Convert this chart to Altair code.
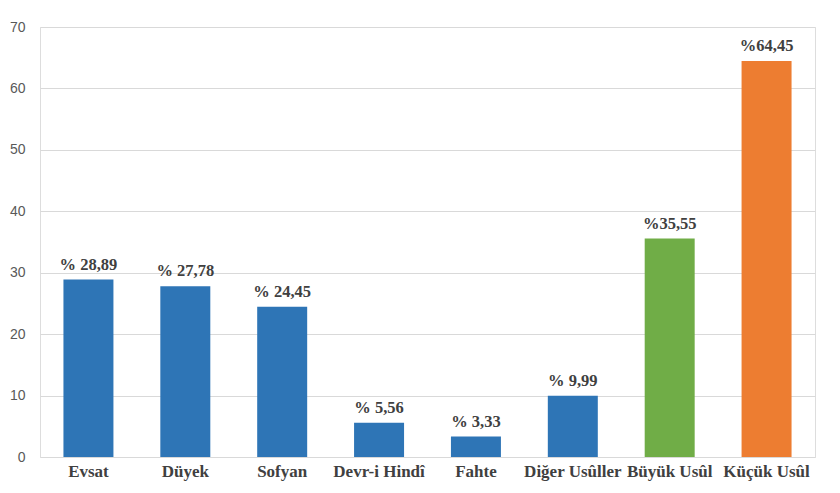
import altair as alt
import pandas as pd

categories = ["Evsat", "Düyek", "Sofyan", "Devr-i Hindî", "Fahte", "Diğer Usûller", "Büyük Usûl", "Küçük Usûl"]
values = [28.89, 27.78, 24.45, 5.56, 3.33, 9.99, 35.55, 64.45]
labels = ["% 28,89", "% 27,78", "% 24,45", "% 5,56", "% 3,33", "% 9,99", "%35,55", "%64,45"]
colors = ["#2E75B6", "#2E75B6", "#2E75B6", "#2E75B6", "#2E75B6", "#2E75B6", "#70AD47", "#ED7D31"]
y_ticks = [0, 10, 20, 30, 40, 50, 60, 70]

df = pd.DataFrame({"cat": categories, "val": values, "lab": labels, "col": colors})

x = alt.X(
    "cat:N",
    sort=categories,
    title=None,
    scale=alt.Scale(paddingInner=0.484, paddingOuter=0.242),
    axis=alt.Axis(
        labelAngle=0,
        labelFont="Liberation Serif",
        labelFontWeight="bold",
        labelFontSize=17,
        labelColor="#404040",
        labelPadding=6,
        ticks=False,
        domain=False,
    ),
)
y = alt.Y(
    "val:Q",
    title=None,
    scale=alt.Scale(domain=[0, 70], nice=False),
    axis=alt.Axis(
        values=y_ticks,
        labelFont="Liberation Sans",
        labelFontSize=14,
        labelColor="#595959",
        labelPadding=15,
        ticks=False,
        domain=False,
        gridColor="#D9D9D9",
        gridWidth=1,
    ),
)

bars = alt.Chart(df).mark_bar().encode(
    x=x, y=y, color=alt.Color("col:N", scale=None)
)
text = alt.Chart(df).mark_text(
    baseline="bottom",
    dy=-7,
    font="Liberation Serif",
    fontWeight="bold",
    fontSize=16.5,
    color="#404040",
).encode(x=alt.X("cat:N", sort=categories), y="val:Q", text="lab:N")

chart = (
    alt.layer(bars, text)
    .properties(width=775, height=430, padding={"left": 1, "top": 12, "right": 5, "bottom": 2})
    .configure_view(stroke=None)
    .configure(background="white")
)
chart.save("out.html", embed_options={"renderer": "svg", "actions": False})
